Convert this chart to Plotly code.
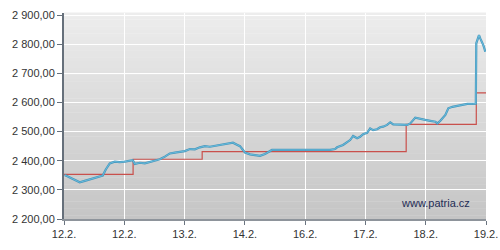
import plotly.graph_objects as go

# ---- data ----
tick_pos = [0, 1, 2, 3, 4, 5, 6, 7]
tick_labels = ["12.2.", "12.2.", "13.2.", "14.2.", "16.2.", "17.2.", "18.2.", "19.2."]

y_ticks = [2200, 2300, 2400, 2500, 2600, 2700, 2800, 2900]
y_tick_labels = ["2 200,00", "2 300,00", "2 400,00", "2 500,00",
                 "2 600,00", "2 700,00", "2 800,00", "2 900,00"]

price_x = [0.012, 0.095, 0.178, 0.261, 0.344, 0.427, 0.510, 0.593, 0.643, 0.693,
           0.759, 0.842, 0.925, 1.008, 1.091, 1.141, 1.174, 1.257, 1.341, 1.424,
           1.507, 1.590, 1.673, 1.756, 1.839, 1.922, 2.005, 2.088, 2.171, 2.254,
           2.337, 2.420, 2.503, 2.586, 2.669, 2.753, 2.803, 2.869, 2.919, 2.969,
           3.002, 3.085, 3.168, 3.251, 3.334, 3.417, 3.450, 4.414, 4.497, 4.530,
           4.629, 4.746, 4.796, 4.862, 4.912, 4.962, 5.028, 5.078, 5.128, 5.194,
           5.244, 5.294, 5.360, 5.412, 5.461, 5.693, 5.744, 5.827, 5.910, 5.993,
           6.076, 6.159, 6.193, 6.243, 6.326, 6.375, 6.442, 6.525, 6.608, 6.691,
           6.774, 6.831, 6.839, 6.856, 6.884, 6.905, 6.938, 6.955, 6.972, 6.988]
price_y = [2351, 2343, 2334, 2326, 2331, 2336, 2342, 2345, 2349, 2370,
           2391, 2397, 2395, 2397, 2400, 2402, 2389, 2393, 2391, 2396,
           2400, 2405, 2414, 2425, 2428, 2431, 2433, 2440, 2439, 2446,
           2450, 2448, 2451, 2454, 2455, 2460, 2462, 2455, 2450, 2437,
           2428, 2422, 2419, 2417, 2423, 2431, 2437, 2437, 2440, 2446,
           2454, 2471, 2485, 2477, 2482, 2491, 2496, 2511, 2505, 2508,
           2515, 2517, 2523, 2532, 2525, 2523, 2528, 2548, 2543, 2540,
           2537, 2534, 2528, 2537, 2557, 2580, 2585, 2588, 2591, 2595,
           2595, 2596, 2803, 2814, 2831, 2820, 2808, 2797, 2786, 2774]

close_x = [0, 1.146, 2.292, 5.676, 6.839, 7.0]
close_y = [2353, 2405, 2431, 2525, 2633, 2633]

fig = go.Figure()

fig.add_trace(go.Scatter(x=close_x, y=close_y, mode="lines",
                         line=dict(color="#c9504c", width=1.2, shape="hv"),
                         hoverinfo="skip", showlegend=False))
fig.add_trace(go.Scatter(x=price_x, y=price_y, mode="lines",
                         line=dict(color="#4796bb", width=2.2),
                         hoverinfo="skip", showlegend=False))
fig.add_trace(go.Scatter(x=price_x, y=price_y, mode="lines",
                         line=dict(color="#6cc0e0", width=0.9),
                         hoverinfo="skip", showlegend=False))

# vertical gradient background of plot area
n = 60
top = (237, 237, 237)
bot = (197, 197, 197)
shapes = []
for i in range(n):
    t = (i + 0.5) / n
    c = tuple(round(bot[k] + (top[k] - bot[k]) * t) for k in range(3))
    shapes.append(dict(type="rect", xref="paper", yref="paper",
                       x0=0, x1=1, y0=i / n, y1=(i + 1) / n + 0.002,
                       fillcolor="rgb(%d,%d,%d)" % c, line=dict(width=0),
                       layer="below"))

font = dict(family="Liberation Sans, Arial, sans-serif", size=11, color="#333333")

fig.update_layout(
    width=500, height=250,
    margin=dict(l=64, r=14, t=13, b=31, autoexpand=False),
    paper_bgcolor="white", plot_bgcolor="rgba(0,0,0,0)",
    shapes=shapes,
    font=font,
    xaxis=dict(range=[0, 7], tickvals=tick_pos, ticktext=tick_labels,
               showgrid=True, gridcolor="white", gridwidth=1,
               showline=True, linecolor="#8e949b", linewidth=1.5,
               ticks="outside", ticklen=4, tickcolor="#6b7480",
               zeroline=False, tickfont=font, automargin=False),
    yaxis=dict(range=[2200, 2907], tickvals=y_ticks, ticktext=y_tick_labels,
               showgrid=True, gridcolor="white", gridwidth=1,
               showline=True, linecolor="#66707b", linewidth=2,
               ticks="outside", ticklen=5, tickcolor="#66707b",
               zeroline=False, tickfont=font, automargin=False),
    annotations=[dict(text="www.patria.cz", xref="paper", yref="paper",
                      x=0.881, y=0.078, xanchor="center", yanchor="middle",
                      showarrow=False,
                      font=dict(family="Liberation Sans, Arial, sans-serif",
                                size=11, color="#1f2d55"))],
)

fig.write_html("out.html")
